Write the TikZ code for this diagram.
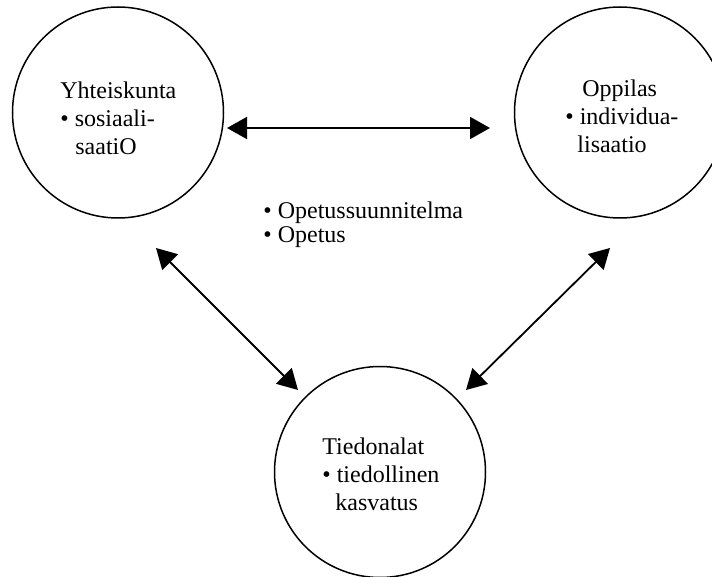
\documentclass[tikz,border=0pt]{standalone}
\usepackage{fontspec}
\setmainfont{Liberation Serif}
\usetikzlibrary{arrows.meta,positioning}
\tikzset{
  sphere/.style={draw=black, circle, line width=0.75pt, minimum size=105.5pt,
    inner sep=0pt},
  ctext/.style={align=left, inner sep=0pt, anchor=base west,
    font=\fontsize{12}{14}\selectfont},
  mtext/.style={ctext, font=\fontsize{12}{12.4}\selectfont},
  twoway/.style={{Triangle[length=10pt,width=11pt]}-{Triangle[length=10pt,width=11pt]},
    line width=0.9pt}
}

\begin{document}
\begin{tikzpicture}[x=0.5pt, y=-0.5pt]
  \useasboundingbox (0,0) rectangle (712,577);

  % the three spheres
  \node[sphere] (yh) at (118,112.5) {};
  \node[sphere] (op) at (620,112.5) {};
  \node[sphere] (ti) at (380,472) {};

  % texts, placed by the baseline of their last line
  \node[ctext] (yhtxt) at (60,155)
    {Yhteiskunta\\\textbullet\ sosiaali-\\\hspace*{7.5pt}saatiO};
  \node[ctext] (optxt) at (565,153)
    {\hspace*{8.5pt}Oppilas\\\textbullet\ individua-\\\hspace*{6pt}lisaatio};
  \node[ctext] (titxt) at (322,510)
    {Tiedonalat\\\textbullet\ tiedollinen\\\hspace*{6.5pt}kasvatus};

  % curriculum in the middle
  \node[mtext] (plan) at (263,243)
    {\textbullet\ Opetussuunnitelma\\\textbullet\ Opetus};

  % arrow ends
  \coordinate (yhE) at (227,128);
  \coordinate (opW) at (490,128);
  \coordinate (yhS) at (156,248);
  \coordinate (tiW) at (298,390);
  \coordinate (opS) at (610,248);
  \coordinate (tiE) at (466,390);

  \draw[twoway] (yhE) -- (opW);
  \draw[twoway] (yhS) -- (tiW);
  \draw[twoway] (opS) -- (tiE);
\end{tikzpicture}
\end{document}
